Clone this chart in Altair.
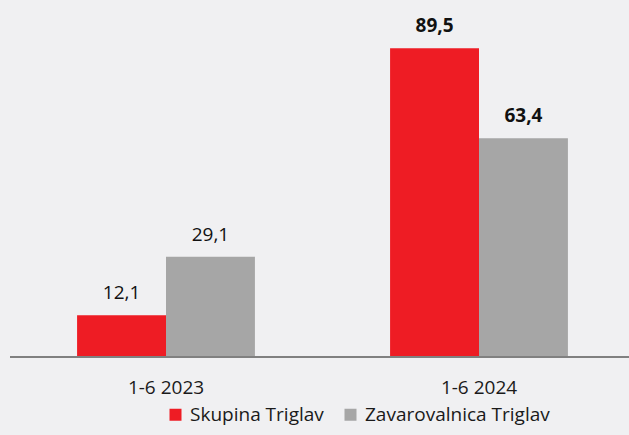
import altair as alt
import pandas as pd

periods = ["1-6 2023", "1-6 2024"]
series = ["Skupina Triglav", "Zavarovalnica Triglav"]
skupina = [12.1, 89.5]
zavarovalnica = [29.1, 63.4]
colors = ["#ee1c24", "#a6a6a6"]
bg = "#f0f0f2"

rows = []
for i, p in enumerate(periods):
    for s, vals in zip(series, [skupina, zavarovalnica]):
        v = vals[i]
        rows.append({"period": p, "series": s, "value": v,
                     "label": f"{v:.1f}".replace(".", ",")})
df = pd.DataFrame(rows)

W = 621
H = 349

x = alt.X("period:N", sort=periods, title=None,
          scale=alt.Scale(range=[1.5, 627.5], paddingInner=0, paddingOuter=0),
          axis=alt.Axis(labelAngle=0, domain=False, ticks=False, grid=False,
                        labelFontSize=19, labelPadding=21, labelColor="#1a1a1a",
                        labelFont="Open Sans"))
xo = alt.XOffset("series:N", sort=series,
                 scale=alt.Scale(paddingOuter=0.76, paddingInner=0))
y = alt.Y("value:Q", scale=alt.Scale(domain=[0, 101.2], nice=False), axis=None)

base = alt.Chart(df)

bars = base.mark_bar().encode(
    x=x, xOffset=xo, y=y,
    color=alt.Color("series:N", sort=series,
                    scale=alt.Scale(domain=series, range=colors),
                    legend=alt.Legend(title=None, orient="none", legendX=158, legendY=397,
                                      direction="horizontal", symbolType="square",
                                      symbolSize=144, symbolStrokeWidth=0,
                                      labelFontSize=19, labelFont="Open Sans",
                                      labelColor="#1a1a1a", labelOffset=5,
                                      columnPadding=17, padding=0, labelLimit=400)),
)

txt_norm = base.transform_filter(alt.datum.period == periods[0]).mark_text(
    dy=-16, baseline="alphabetic", fontSize=19, font="Open Sans", color="#111111"
).encode(x=x, xOffset=xo, y=y, text="label:N")

txt_bold = base.transform_filter(alt.datum.period == periods[1]).mark_text(
    dy=-16, baseline="alphabetic", fontSize=19, font="Open Sans", fontWeight="bold",
    color="#111111"
).encode(x=x, xOffset=xo, y=y, text="label:N")

axis_line = base.mark_rule(color="#808080", strokeWidth=2).encode(
    x=alt.value(2), x2=alt.value(W), y=alt.datum(0)
)

chart = alt.layer(bars, txt_norm, txt_bold, axis_line).properties(
    width=W, height=H,
    autosize=alt.AutoSizeParams(type="none"),
    padding={"left": 0, "top": 0, "right": 0, "bottom": 70},
    background=bg,
).configure_view(stroke=None)

page_css = (
    "body{background:" + bg + ";margin-right:0;}"
    ".vega-embed{position:relative;display:inline-block;box-sizing:border-box;}"
)

chart.save("out.html", embed_options={"renderer": "svg", "actions": False,
                                      "defaultStyle": page_css})
